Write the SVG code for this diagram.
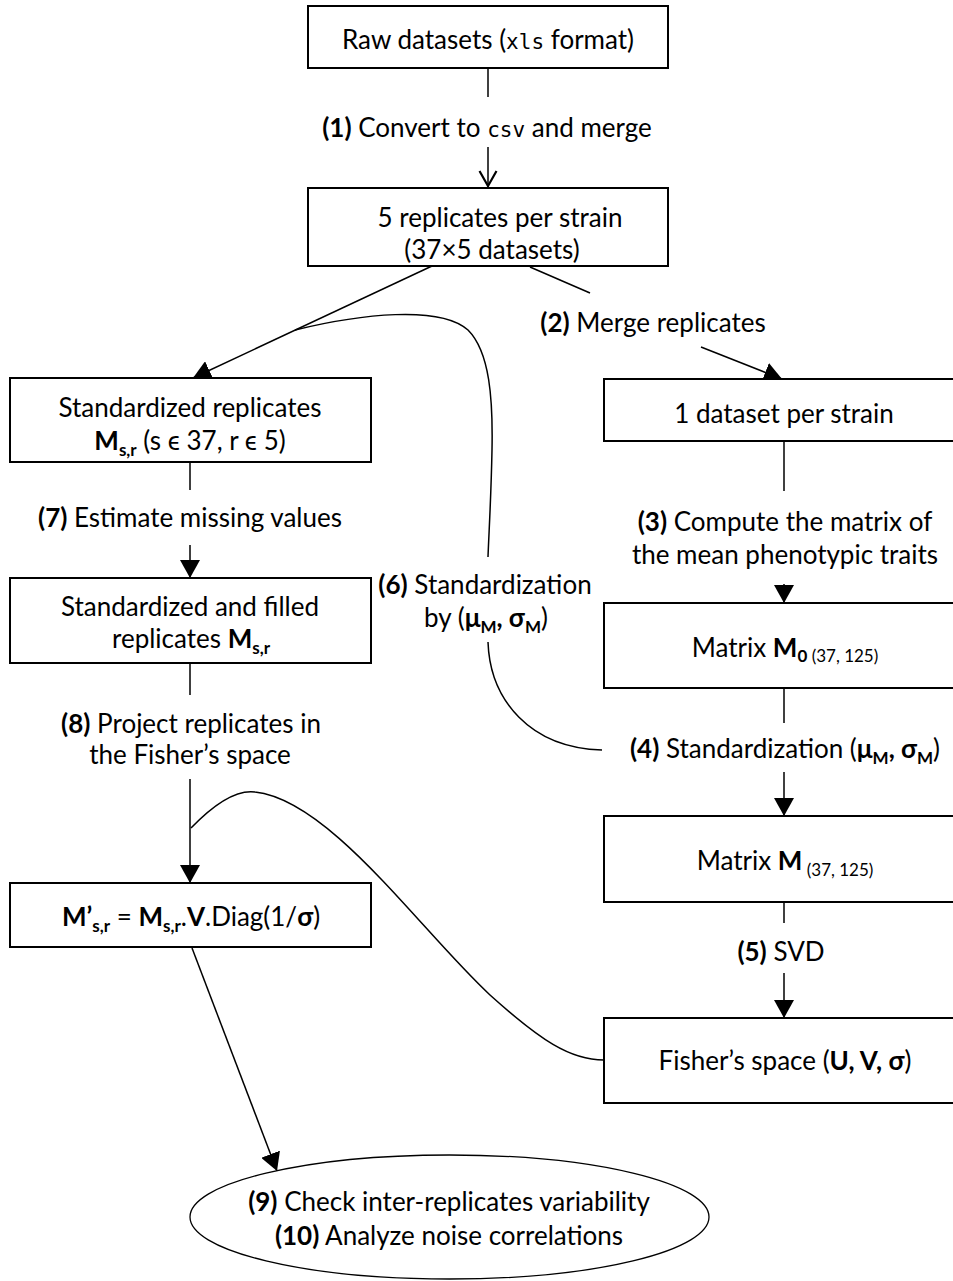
<svg xmlns="http://www.w3.org/2000/svg" width="953" height="1281" viewBox="0 0 953 1281">
  <style>
    text { font-family: Lato, "Open Sans", "DejaVu Sans", sans-serif; font-size: 26px; fill: #000; text-anchor: middle; }
    .b { font-weight: bold; }
    .mono { font-family: "DejaVu Sans Mono", "Liberation Mono", monospace; font-size: 21px; font-weight: normal; }
    .sub { font-size: 17px; }
    .small { font-size: 17px; font-weight: normal; }
    .box { fill: #fff; stroke: #000; stroke-width: 2; }
    .edge { fill: none; stroke: #000; stroke-width: 1.5; }
  </style>
  <defs>
    <marker id="tri" viewBox="0 0 18 20" refX="18" refY="10" markerWidth="18" markerHeight="20" markerUnits="userSpaceOnUse" orient="auto">
      <path d="M0,0 L18,10 L0,20 Z" fill="#000"/>
    </marker>
    <marker id="open" viewBox="0 0 18 20" refX="17" refY="10" markerWidth="18" markerHeight="20" markerUnits="userSpaceOnUse" orient="auto">
      <path d="M1,1.5 L16,10 L1,18.5" fill="none" stroke="#000" stroke-width="2.2"/>
    </marker>
  </defs>

  <rect width="953" height="1281" fill="#fff"/>

  <!-- connectors -->
  <g id="connectors">
    <line class="edge" x1="488" y1="68" x2="488" y2="97"/>
    <line class="edge" x1="488" y1="147" x2="488" y2="187" marker-end="url(#open)"/>
    <line class="edge" x1="432" y1="266" x2="193" y2="378" marker-end="url(#tri)"/>
    <line class="edge" x1="530" y1="267" x2="590" y2="293"/>
    <line class="edge" x1="701" y1="347" x2="782" y2="379" marker-end="url(#tri)"/>
    <line class="edge" x1="784" y1="441" x2="784" y2="491"/>
    <line class="edge" x1="784" y1="584" x2="784" y2="603" marker-end="url(#tri)"/>
    <line class="edge" x1="784" y1="688" x2="784" y2="723"/>
    <line class="edge" x1="784" y1="772" x2="784" y2="816" marker-end="url(#tri)"/>
    <line class="edge" x1="784" y1="902" x2="784" y2="923"/>
    <line class="edge" x1="784" y1="973" x2="784" y2="1018" marker-end="url(#tri)"/>
    <line class="edge" x1="190" y1="462" x2="190" y2="490"/>
    <line class="edge" x1="190" y1="545" x2="190" y2="578" marker-end="url(#tri)"/>
    <line class="edge" x1="190" y1="663" x2="190" y2="695"/>
    <line class="edge" x1="190" y1="779" x2="190" y2="883" marker-end="url(#tri)"/>
    <line class="edge" x1="192" y1="948" x2="277" y2="1171" marker-end="url(#tri)"/>
    <!-- standardization parameters fed back to the replicates -->
    <path class="edge" d="M295,330 C360,314 440,305 468,330 C490,352 493,400 492,450 C491,500 489,530 488,557"/>
    <path class="edge" d="M488,642 C490,700 530,748 602,750"/>
    <!-- Fisher's space fed into the projection -->
    <path class="edge" d="M191,828 C220,798 240,790 255,792 C330,800 420,930 490,995 C540,1040 570,1060 604,1060"/>
  </g>

  <!-- step labels -->
  <g id="labels">
    <text x="487" y="137"><tspan class="b">(1)</tspan> Convert to <tspan class="mono">csv</tspan> and merge</text>
    <text x="653" y="332"><tspan class="b">(2)</tspan> Merge replicates</text>
    <text x="785" y="531"><tspan class="b">(3)</tspan> Compute the matrix of</text>
    <text x="785" y="564">the mean phenotypic traits</text>
    <text x="785" y="758"><tspan class="b">(4)</tspan> Standardization (<tspan class="b">μ</tspan><tspan class="b sub" dy="6">M</tspan><tspan class="b" dy="-6">, σ</tspan><tspan class="b sub" dy="6">M</tspan><tspan dy="-6">)</tspan></text>
    <text x="781" y="961"><tspan class="b">(5)</tspan> SVD</text>
    <text x="485" y="594"><tspan class="b">(6)</tspan> Standardization</text>
    <text x="486" y="627">by (<tspan class="b">μ</tspan><tspan class="b sub" dy="6">M</tspan><tspan class="b" dy="-6">, σ</tspan><tspan class="b sub" dy="6">M</tspan><tspan dy="-6">)</tspan></text>
    <text x="190" y="527"><tspan class="b">(7)</tspan> Estimate missing values</text>
    <text x="191" y="733"><tspan class="b">(8)</tspan> Project replicates in</text>
    <text x="190" y="764">the Fisher’s space</text>
  </g>

  <!-- nodes -->
  <g id="raw">
    <rect class="box" x="308" y="6" width="360" height="62"/>
    <text x="488" y="49">Raw datasets (<tspan class="mono">xls</tspan> format)</text>
  </g>
  <g id="replicates">
    <rect class="box" x="308" y="188" width="360" height="78"/>
    <text x="500" y="227">5 replicates per strain</text>
    <text x="492" y="259">(37×5 datasets)</text>
  </g>
  <g id="std-replicates">
    <rect class="box" x="10" y="378" width="361" height="84"/>
    <text x="190" y="417">Standardized replicates</text>
    <text x="190" y="450"><tspan class="b">M</tspan><tspan class="b sub" dy="6">s,r</tspan><tspan dy="-6"> (s ϵ 37, r ϵ 5)</tspan></text>
  </g>
  <g id="filled-replicates">
    <rect class="box" x="10" y="578" width="361" height="85"/>
    <text x="190" y="616">Standardized and filled</text>
    <text x="191" y="648">replicates <tspan class="b">M</tspan><tspan class="b sub" dy="6">s,r</tspan></text>
  </g>
  <g id="projected">
    <rect class="box" x="10" y="883" width="361" height="64"/>
    <text x="191" y="926"><tspan class="b">M’</tspan><tspan class="b sub" dy="6">s,r</tspan><tspan dy="-6"> = </tspan><tspan class="b">M</tspan><tspan class="b sub" dy="6">s,r</tspan><tspan dy="-6">.</tspan><tspan class="b">V</tspan>.Diag(1/<tspan class="b">σ</tspan>)</text>
  </g>
  <g id="per-strain">
    <rect class="box" x="604" y="379" width="352" height="62"/>
    <text x="784" y="423">1 dataset per strain</text>
  </g>
  <g id="matrix-m0">
    <rect class="box" x="604" y="603" width="352" height="85"/>
    <text x="785" y="657">Matrix <tspan class="b">M</tspan><tspan class="b sub" dy="5">0</tspan><tspan class="small"> (37, 125)</tspan></text>
  </g>
  <g id="matrix-m">
    <rect class="box" x="604" y="816" width="352" height="86"/>
    <text x="785" y="870">Matrix <tspan class="b">M</tspan><tspan class="small" dy="6"> (37, 125)</tspan></text>
  </g>
  <g id="fisher-space">
    <rect class="box" x="604" y="1018" width="352" height="85"/>
    <text x="785" y="1070">Fisher’s space (<tspan class="b">U, V, σ</tspan>)</text>
  </g>
  <g id="analysis">
    <ellipse cx="449.5" cy="1217" rx="259.5" ry="62" fill="#fff" stroke="#000" stroke-width="1.3"/>
    <text x="449" y="1211"><tspan class="b">(9)</tspan> Check inter-replicates variability</text>
    <text x="449" y="1245"><tspan class="b">(10)</tspan> Analyze noise correlations</text>
  </g>
</svg>
